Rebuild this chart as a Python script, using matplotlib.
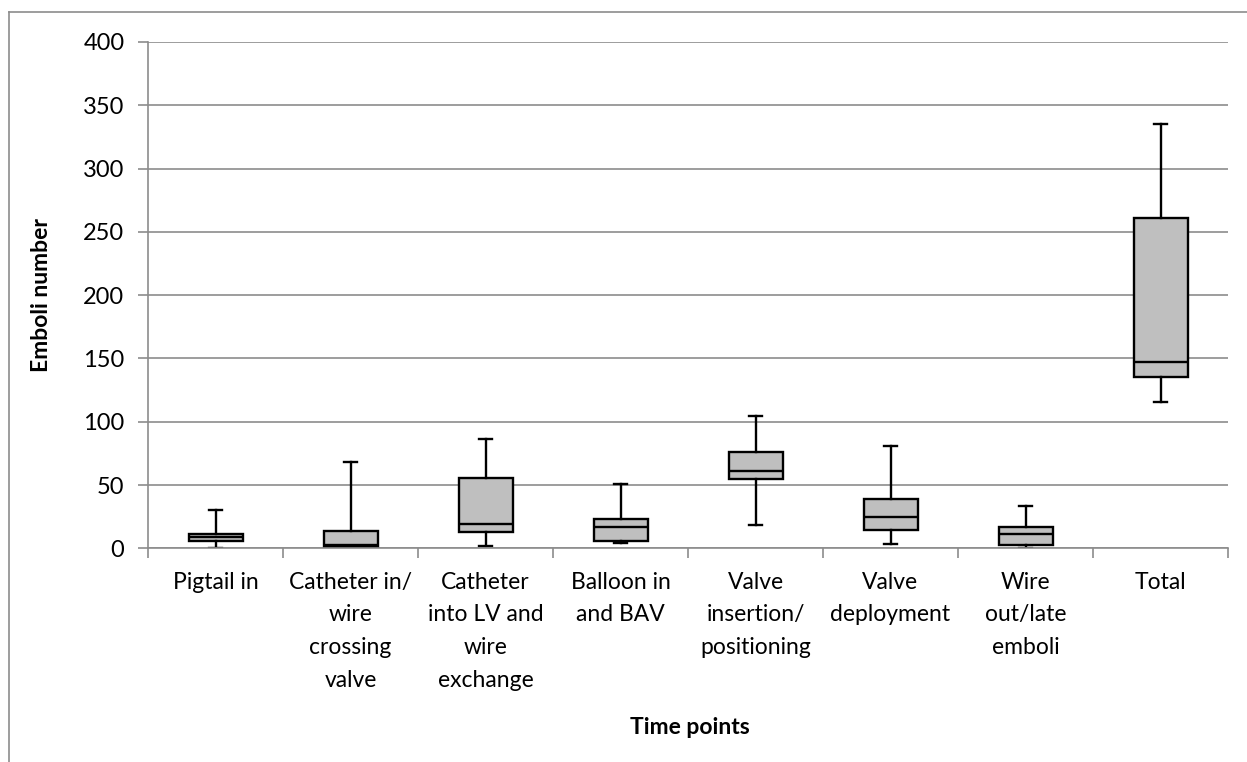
import matplotlib
matplotlib.use("Agg")
import matplotlib.pyplot as plt
from matplotlib.lines import Line2D

plt.rcParams['font.family'] = ['Lato', 'DejaVu Sans']

categories = [
    "Pigtail in",
    "Catheter in/\nwire\ncrossing\nvalve",
    "Catheter\ninto LV and\nwire\nexchange",
    "Balloon in\nand BAV",
    "Valve\ninsertion/\npositioning",
    "Valve\ndeployment",
    "Wire\nout/late\nemboli",
    "Total",
]
whisker_low = [0.0, 0.0, 1.8, 4.0, 18.6, 3.6, 0.5, 115.8]
quartile_1 = [6.0, 1.0, 13.0, 6.0, 55.0, 14.5, 2.8, 135.5]
medians = [9.0, 2.6, 19.5, 16.6, 61.3, 25.0, 11.5, 146.9]
quartile_3 = [11.0, 13.7, 55.3, 23.1, 75.8, 38.7, 16.8, 260.9]
whisker_high = [30.0, 68.0, 86.6, 50.8, 104.7, 80.8, 33.7, 335.4]
y_ticks = [0, 50, 100, 150, 200, 250, 300, 350, 400]

grey = "#8c8c8c"

fig = plt.figure(figsize=(12.47, 7.62), dpi=100)
ax = fig.add_axes([148 / 1247, 1 - 548.3 / 762, (1228 - 148) / 1247, (548.3 - 42) / 762])

stats = []
for lo, q1, med, q3, hi in zip(whisker_low, quartile_1, medians, quartile_3, whisker_high):
    stats.append({"whislo": lo, "q1": q1, "med": med, "q3": q3, "whishi": hi, "fliers": []})

positions = list(range(1, len(categories) + 1))
ax.bxp(
    stats,
    positions=positions,
    widths=0.4,
    capwidths=0.09,
    patch_artist=True,
    showfliers=False,
    boxprops=dict(facecolor="#bfbfbf", edgecolor="black", linewidth=1.7),
    medianprops=dict(color="black", linewidth=1.7),
    whiskerprops=dict(color="black", linewidth=1.7),
    capprops=dict(color="black", linewidth=1.7),
    zorder=2,
)

ax.set_xlim(0.5, len(categories) + 0.5)
ax.set_ylim(0, 400)
ax.set_yticks(y_ticks)
ax.set_yticklabels([str(v) for v in y_ticks], fontsize=17)
ax.set_axisbelow(True)
ax.yaxis.grid(True, color=grey, linewidth=1.2)

ax.set_xticks(positions)
ax.set_xticklabels(categories, fontsize=16.5, linespacing=1.68, va="top")
ax.set_xticks([p + 0.5 for p in range(0, len(categories) + 1)], minor=True)
ax.tick_params(axis="x", which="major", length=0, pad=17)
ax.tick_params(axis="x", which="minor", length=7, width=1.2, color=grey, direction="out")
ax.tick_params(axis="y", length=7, width=1.2, color=grey, direction="out", pad=10)

for side in ("top", "right"):
    ax.spines[side].set_visible(False)
for side in ("left", "bottom"):
    ax.spines[side].set_color(grey)
    ax.spines[side].set_linewidth(1.2)
    ax.spines[side].set_zorder(2.5)

ax.set_ylabel("Emboli number", fontsize=16.5, fontweight="bold", labelpad=22)
fig.text(690 / 1247, 1 - 728 / 762, "Time points", fontsize=16.5, fontweight="bold",
         ha="center", va="center")

# chart frame: top and left edges only
fig.add_artist(Line2D([9 / 1247, 1.0], [1 - 12 / 762, 1 - 12 / 762], transform=fig.transFigure,
                      color=grey, linewidth=1.2))
fig.add_artist(Line2D([9 / 1247, 9 / 1247], [0.0, 1 - 12 / 762], transform=fig.transFigure,
                      color=grey, linewidth=1.2))

fig.savefig("out.png", dpi=100)
